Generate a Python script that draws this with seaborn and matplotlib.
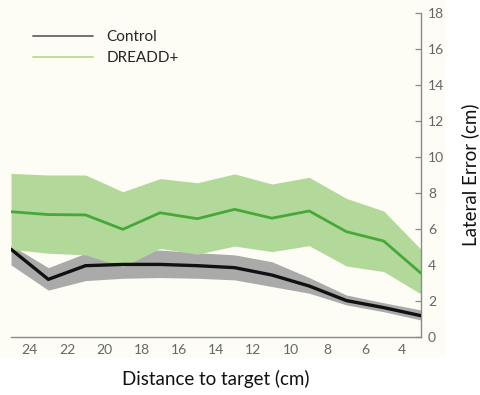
import matplotlib
matplotlib.use("Agg")
import matplotlib.pyplot as plt
from matplotlib.lines import Line2D
from matplotlib.patches import Rectangle
import seaborn as sns
import pandas as pd

sns.set_theme(style="white")
plt.rcParams["font.family"] = ["Lato", "DejaVu Sans"]

# distance to target (cm)
distance = [25, 23, 21, 19, 17, 15, 13, 11, 9, 7, 5, 3]

# lateral error (cm): mean and band limits per group
control_mean = [4.87, 3.2, 3.96, 4.03, 4.03, 3.96, 3.85, 3.44, 2.83, 2.02, 1.63, 1.18]
control_upper = [5.1, 3.85, 4.65, 4.7, 4.83, 4.68, 4.56, 4.18, 3.3, 2.33, 1.9, 1.5]
control_lower = [4.0, 2.6, 3.13, 3.26, 3.3, 3.26, 3.17, 2.8, 2.43, 1.78, 1.4, 0.94]

dreadd_mean = [6.96, 6.8, 6.78, 5.98, 6.9, 6.57, 7.09, 6.6, 7.0, 5.85, 5.33, 3.54]
dreadd_upper = [9.09, 9.0, 9.0, 8.07, 8.8, 8.57, 9.06, 8.5, 8.87, 7.7, 7.0, 4.87]
dreadd_lower = [4.87, 4.65, 4.56, 3.9, 4.92, 4.6, 5.05, 4.74, 5.07, 3.94, 3.63, 2.39]

x_ticks = [24, 22, 20, 18, 16, 14, 12, 10, 8, 6, 4]
y_ticks = [0, 2, 4, 6, 8, 10, 12, 14, 16, 18]

df = pd.DataFrame({
    "distance": distance * 2,
    "error": control_mean + dreadd_mean,
    "group": ["Control"] * len(distance) + ["DREADD+"] * len(distance),
})

fig = plt.figure(figsize=(4.8, 3.95), dpi=100)
fig.patch.set_facecolor("white")
fig.patches.append(Rectangle((0, 0.094), 445 / 480, 0.906, transform=fig.transFigure,
                             facecolor="#fdfdf6", edgecolor="none", zorder=-10))
ax = fig.add_axes([0.023, 0.147, 0.854, 0.82])
ax.set_facecolor("none")

grey_fill = "#aaaaaa"
green_fill = "#b3d99a"
ax.fill_between(distance, control_lower, control_upper, color=grey_fill, lw=0, zorder=1)
ax.fill_between(distance, dreadd_lower, dreadd_upper, color=green_fill, lw=0, zorder=2)

sns.lineplot(data=df, x="distance", y="error", hue="group",
             palette={"Control": "#111111", "DREADD+": "#47a83a"},
             ax=ax, legend=False, zorder=3)
lines = ax.get_lines()
lines[0].set_linewidth(2.4)
lines[1].set_linewidth(2.0)

ax.set_xlim(25, 3)
ax.set_ylim(0, 18)
ax.set_xticks(x_ticks)
ax.set_yticks(y_ticks)

ax.yaxis.tick_right()
ax.yaxis.set_label_position("right")
for side in ["left", "top"]:
    ax.spines[side].set_visible(False)
for side in ["right", "bottom"]:
    ax.spines[side].set_color("#8a8a8a")
    ax.spines[side].set_linewidth(1.0)

ax.tick_params(axis="both", direction="in", length=4, width=0.9, color="#8a8a8a",
               labelcolor="#666666", labelsize=10)
ax.tick_params(axis="x", pad=5)
ax.tick_params(axis="y", pad=5)

ax.set_xlabel("Distance to target (cm)", fontsize=13.5, color="#111111", labelpad=10)
ax.set_ylabel("Lateral Error (cm)", fontsize=13.5, color="#111111", labelpad=12)

handles = [Line2D([], [], color="#666666", lw=1.3),
           Line2D([], [], color="#b5dc9a", lw=1.3)]
ax.legend(handles, ["Control", "DREADD+"], loc="upper left", bbox_to_anchor=(0.02, 0.99),
          frameon=False, fontsize=11, handlelength=3.9, handletextpad=0.9,
          labelspacing=0.45)

fig.savefig("out.png", dpi=100)
